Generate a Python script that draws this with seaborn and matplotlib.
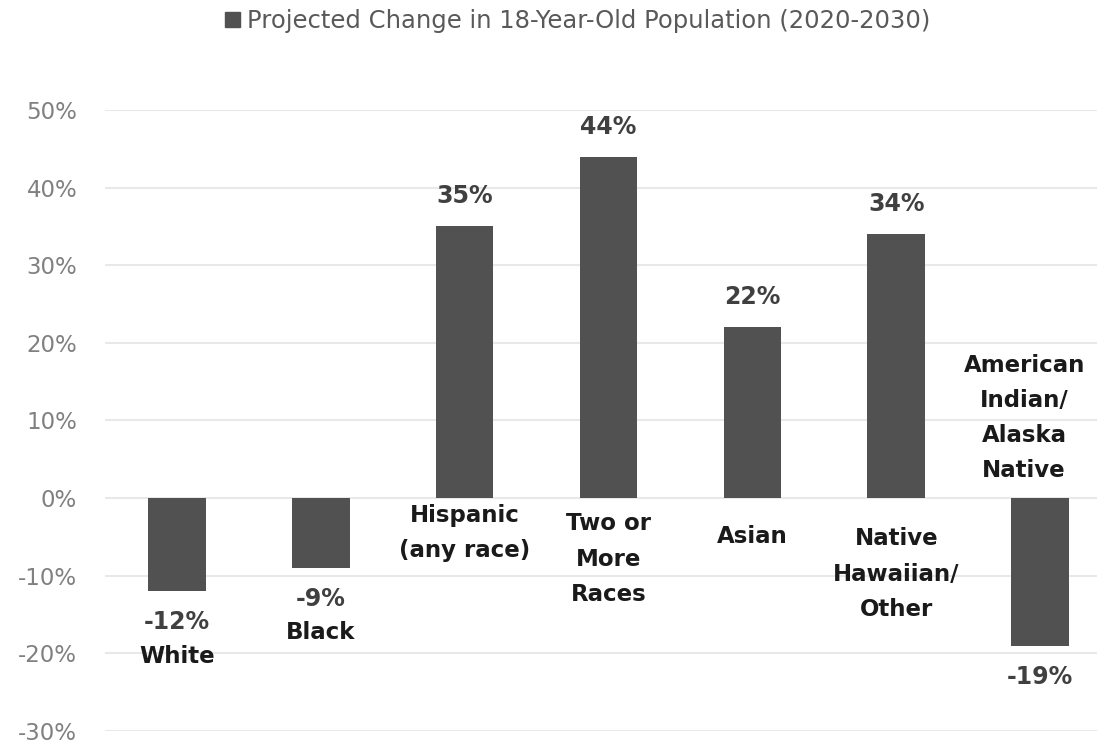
import matplotlib
matplotlib.use("Agg")
import matplotlib.pyplot as plt
import seaborn as sns
import pandas as pd
from matplotlib.patches import Patch
from matplotlib.ticker import FuncFormatter

categories = ["White", "Black", "Hispanic\n(any race)", "Two or\nMore\nRaces",
              "Asian", "Native\nHawaiian/\nOther", "American\nIndian/\nAlaska\nNative"]
values = [-12, -9, 35, 44, 22, 34, -19]
series_name = "Projected Change in 18-Year-Old Population (2020-2030)"
y_ticks = [-30, -20, -10, 0, 10, 20, 30, 40, 50]

sns.set_theme(style="white")
plt.rcParams["font.family"] = ["DejaVu Sans"]

BAR = "#515151"
fig = plt.figure(figsize=(10.97, 7.44), dpi=100)
ax = fig.add_axes([0.0957, 0.0175, 0.918, 0.8347])

df = pd.DataFrame({"cat": categories, "val": values})
sns.barplot(data=df, x="cat", y="val", color=BAR, width=0.4, ax=ax,
            saturation=1, edgecolor=BAR, linewidth=0)

ax.set_ylim(-30, 50)
ax.set_xlim(-0.5, len(categories) - 0.5)
ax.set_yticks(y_ticks)
ax.yaxis.set_major_formatter(FuncFormatter(lambda v, p: f"{v:.0f}%"))
ax.grid(axis="y", color="#e8e8e8", linewidth=1.5)
ax.set_axisbelow(True)
for s in ax.spines.values():
    s.set_visible(False)
ax.set_xticks([])
ax.set_xlabel("")
ax.set_ylabel("")
ax.tick_params(axis="y", length=0, pad=20, labelsize=16.5, labelcolor="#808080")

px = 0.72  # points per pixel
# category label offsets (pixels): (anchor, dx, dy); anchor 'end' = bar end, 'zero' = baseline
cat_offsets = [("end", 0, -65), ("end", 0, -65), ("zero", 0, -35), ("zero", 0, -61),
               ("zero", 0, -38), ("zero", 0, -76), ("zero", -16, 80)]
for i, (cat, v) in enumerate(zip(categories, values)):
    dy = 30 if v > 0 else -31
    ax.annotate(f"{v}%", (i, v), xytext=(0, dy * px), textcoords="offset points",
                ha="center", va="center", fontsize=17, fontweight="bold", color="#404040")
    anchor, cdx, cdy = cat_offsets[i]
    yref = v if anchor == "end" else 0
    ax.annotate(cat, (i, yref), xytext=(cdx * px, cdy * px), textcoords="offset points",
                ha="center", va="center", fontsize=16.5, fontweight="bold", color="#1a1a1a",
                linespacing=1.68, multialignment="center")

fig.legend(handles=[Patch(facecolor=BAR, edgecolor=BAR)], labels=[series_name],
           loc="center", bbox_to_anchor=(0.527, 0.972), frameon=False,
           fontsize=17.5, labelcolor="#595959", handlelength=0.6, handleheight=0.6,
           handletextpad=0.3)

fig.savefig("out.png", dpi=100)
